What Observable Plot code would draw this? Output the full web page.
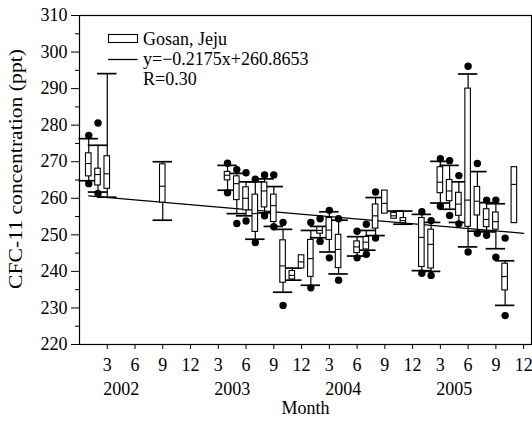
<!DOCTYPE html>
<html><head><meta charset="utf-8">
<script src="https://cdn.jsdelivr.net/npm/d3@7"></script>
<script src="https://cdn.jsdelivr.net/npm/@observablehq/plot@0.6"></script>
<style>
html,body{margin:0;padding:0;background:#fff;}
</style></head><body><div id="chart"></div>
<script>
// Month index: 1 = Jan 2002 ... 48 = Dec 2005
const months = [1,2,3,9, 16,17,18,19,20,21,22,23,24,25,26,27,28, 30,31,32,33,34,35, 37,38,39,40,41,42,43,44,45,46,47];
const wHi  = [276.3,274.5,294.1,270.0, 269.0,266.8,264.5,264.5,265.3,263.2,251.5,240.9,null,251.2,252.3,256.3,254.0, 249.5,251.2,260.2,null,256.5,256.5, 255.6,253.4,270.1,269.0,264.5,294.0,267.3,258.8,258.5,242.9,null];
const q3   = [272.3,268.1,271.5,269.3, 267.2,266.0,263.0,261.0,264.3,261.0,248.5,240.1,244.4,248.6,252.1,254.6,250.0, 248.2,249.4,258.3,262.1,256.0,254.6, 254.6,251.4,268.5,265.0,261.5,290.0,263.1,257.0,256.1,242.1,268.5];
const med  = [269.5,266.5,266.7,263.3, 266.3,264.0,260.0,255.8,262.0,258.0,241.5,238.9,242.6,243.5,251.2,251.3,246.0, 246.7,248.0,255.2,258.6,255.2,253.9, 249.3,247.4,264.4,262.0,258.4,259.5,259.2,254.2,253.6,238.6,263.8];
const q1   = [266.0,263.5,262.6,258.8, 264.9,259.5,256.7,250.8,257.5,253.5,236.9,237.8,240.8,238.5,250.3,248.6,240.9, 245.0,246.0,251.7,255.8,254.4,253.2, 241.2,240.8,261.4,259.2,255.2,252.2,255.3,252.1,251.4,234.8,253.2];
const wLo  = [264.8,261.7,260.3,254.0, 262.2,255.8,255.2,248.8,256.0,252.3,234.3,237.6,null,236.2,249.2,245.3,239.3, 244.2,245.8,249.8,null,null,252.9, 240.2,240.0,258.7,257.0,253.4,246.7,251.0,250.8,246.2,230.7,null];
const dotHi = [277.2,280.6,null,null, 269.6,267.8,267.0,265.2,266.4,266.4,253.4,null,null,253.4,254.4,256.7,254.4, 251.0,252.9,261.7,null,null,null, 256.3,253.9,270.8,270.3,266.2,296.1,269.5,259.5,259.5,249.1,null];
const dotLo = [264.0,261.3,null,null, 261.5,253.1,253.8,247.9,255.2,252.2,230.7,null,null,235.5,248.2,243.7,237.6, 243.7,244.7,249.1,null,null,null, 239.5,238.9,257.8,255.3,253.0,245.3,250.4,249.9,243.9,227.9,null];

const monthTicks = [3,6,9,12,15,18,21,24,27,30,33,36,39,42,45,48];
const yMajor = [220,230,240,250,260,270,280,290,300,310];
const yMinor = [225,235,245,255,265,275,285,295,305];
const years = ["2002","2003","2004","2005"];
const yearCenters = [4.5,16.5,28.5,40.5];
const fitSlope = -0.2175, fitIntercept = 260.8653;
const fitRange = [1,48];
const legendLabels = ["Gosan, Jeju","y=\u22120.2175x+260.8653","R=0.30"];
const yTitle = "CFC-11 concentration (ppt)";
const xTitle = "Month";

const rows = months.map((m,i) => ({m, hi:wHi[i], q3:q3[i], med:med[i], q1:q1[i], lo:wLo[i]}));
const dots = [];
months.forEach((m,i) => { if (dotHi[i]!=null) dots.push({m, v:dotHi[i]}); if (dotLo[i]!=null) dots.push({m, v:dotLo[i]}); });
const fit = fitRange.map(x => ({x, y: fitSlope*x + fitIntercept}));
const BW = 0.3, CW = 1.05;

const font = '"Liberation Serif","Times New Roman",serif';
const chart = Plot.plot({
  width: 532, height: 422,
  marginLeft: 79, marginRight: 1, marginTop: 15, marginBottom: 78,
  x: {domain: [0, 48.85]},
  y: {domain: [220, 310]},
  style: {fontFamily: font, fontSize: "18px", color: "black", background: "white"},
  marks: [
    Plot.line(fit, {x: "x", y: "y", stroke: "black", strokeWidth: 1.3}),
    Plot.ruleX(rows.filter(d => d.hi != null), {x: "m", y1: "q3", y2: "hi", stroke: "black", strokeWidth: 1.2}),
    Plot.ruleX(rows.filter(d => d.lo != null), {x: "m", y1: "lo", y2: "q1", stroke: "black", strokeWidth: 1.2}),
    Plot.ruleY(rows.filter(d => d.hi != null), {y: "hi", x1: d => d.m - CW, x2: d => d.m + CW, stroke: "black", strokeWidth: 1.7}),
    Plot.ruleY(rows.filter(d => d.lo != null), {y: "lo", x1: d => d.m - CW, x2: d => d.m + CW, stroke: "black", strokeWidth: 1.7}),
    Plot.rect(rows, {x1: d => d.m - BW, x2: d => d.m + BW, y1: "q1", y2: "q3", fill: "white", stroke: "black", strokeWidth: 1.1}),
    Plot.ruleY(rows, {y: "med", x1: d => d.m - BW, x2: d => d.m + BW, stroke: "black", strokeWidth: 1.1}),
    Plot.dot(dots, {x: "m", y: "v", r: 3.7, fill: "black", stroke: "none"}),
    Plot.frame({stroke: "black", strokeWidth: 1.2}),
    Plot.axisY({ticks: yMajor, tickSize: 8, tickPadding: 4, label: null, tickFormat: d => String(d), fontFamily: font, fontSize: 18}),
    Plot.axisY({ticks: yMinor, tickSize: 4, label: null, tickFormat: () => ""}),
    Plot.axisX({ticks: monthTicks, tickSize: 5, tickPadding: 9, label: null, tickFormat: d => String((d - 1) % 12 + 1), fontFamily: font, fontSize: 18}),
    Plot.text(years, {x: (d, i) => yearCenters[i], frameAnchor: "bottom", dy: 50, text: d => d, fontSize: 18, fontFamily: font}),
    Plot.text([xTitle], {frameAnchor: "bottom", dy: 69, text: d => d, fontSize: 18, fontFamily: font})
  ]
});
document.getElementById("chart").appendChild(chart);

const svg = d3.select(chart);
svg.append("text")
  .attr("transform", "translate(22,169) rotate(-90)")
  .attr("text-anchor", "middle")
  .attr("font-family", font).attr("font-size", 18)
  .attr("textLength", 240).attr("lengthAdjust", "spacingAndGlyphs")
  .text(yTitle);

const lg = svg.append("g").attr("font-family", font).attr("font-size", 18).attr("fill", "black").attr("text-anchor", "start");
lg.append("rect").attr("x", 108.5).attr("y", 34.5).attr("width", 29).attr("height", 8).attr("fill", "none").attr("stroke", "black").attr("stroke-width", 1.1);
lg.append("line").attr("x1", 108).attr("x2", 137.5).attr("y1", 59.5).attr("y2", 59.5).attr("stroke", "black").attr("stroke-width", 1.3);
legendLabels.forEach((t, i) => lg.append("text").attr("x", 143).attr("y", 45 + 20 * i).attr("text-anchor", "start").text(t));
</script></body></html>
